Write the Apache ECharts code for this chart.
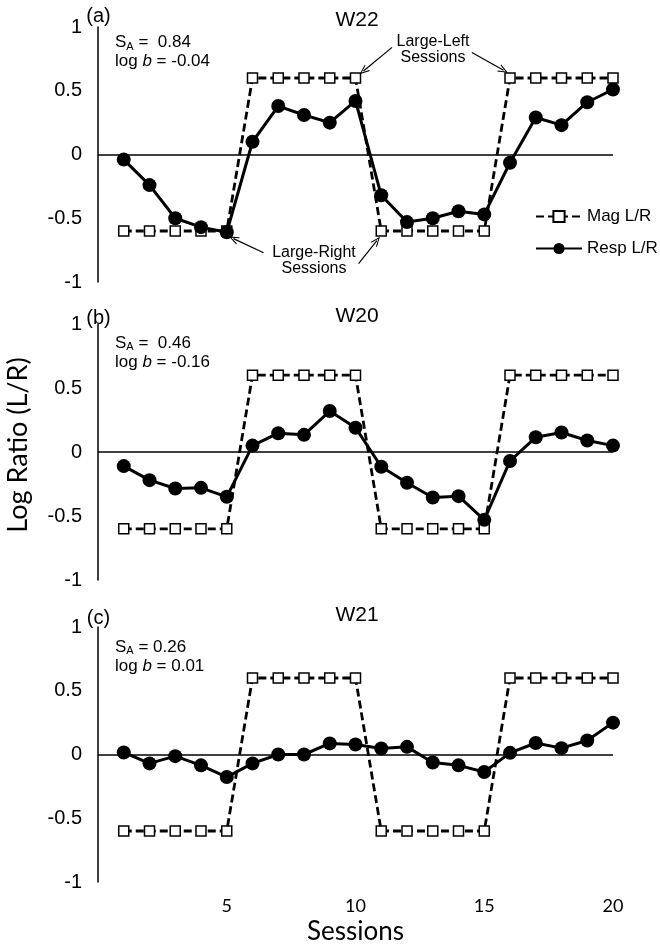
<!DOCTYPE html>
<html>
<head>
<meta charset="utf-8">
<script src="https://cdn.jsdelivr.net/npm/echarts@6/dist/echarts.min.js"></script>
<style>html,body{margin:0;padding:0;background:#fff}#c{width:660px;height:946px}</style>
</head>
<body>
<div id="c"></div>
<script>
// ---- data ----
const sessions = [1,2,3,4,5,6,7,8,9,10,11,12,13,14,15,16,17,18,19,20];
const magLR = [-0.6,-0.6,-0.6,-0.6,-0.6, 0.6,0.6,0.6,0.6,0.6, -0.6,-0.6,-0.6,-0.6,-0.6, 0.6,0.6,0.6,0.6,0.6];
const respW22 = [-0.04,-0.24,-0.50,-0.57,-0.61, 0.10,0.38,0.31,0.25,0.42, -0.32,-0.53,-0.50,-0.445,-0.47, -0.065,0.29,0.23,0.41,0.51];
const respW20 = [-0.11,-0.22,-0.285,-0.28,-0.35, 0.05,0.147,0.134,0.32,0.19, -0.115,-0.24,-0.355,-0.345,-0.53, -0.07,0.115,0.152,0.09,0.05];
const respW21 = [0.016,-0.07,-0.013,-0.085,-0.177, -0.07,0.0,0.0,0.087,0.079, 0.047,0.06,-0.063,-0.085,-0.137, 0.013,0.09,0.05,0.11,0.25];
const subjects = ['W22','W20','W21'];
const panelTags = ['(a)','(b)','(c)'];
const saValues = [' 0.84',' 0.46','0.26'];
const logbValues = ['-0.04','-0.16','0.01'];
const yTickValues = [-1,-0.5,0,0.5,1];
const xTickLabels = [5,10,15,20];
// annotation arrows (panel a), in data coordinates [session, log ratio]
const arrowsA = [
  [[11.42,0.84],[10.31,0.655]],
  [[14.52,0.80],[15.75,0.66]],
  [[6.43,-0.77],[5.26,-0.66]],
  [[10.12,-0.855],[10.83,-0.675]]
];

const respAll = [respW22, respW20, respW21];
const grids = [
  {left:98, width:515, top:27, height:255},
  {left:98, width:515, top:324, height:256},
  {left:98, width:515, top:627, height:255}
];
const chevron = 'path://M0,10 L5,0 L10,10 L8.6,10 L5,2.6 L1.4,10 Z';

const xAxes = [], yAxes = [], series = [];
grids.forEach((g,i)=>{
  const last = i === grids.length-1;
  xAxes.push({
    gridIndex:i, type:'value', min:0, max:20, interval:5,
    axisLine:{show:false}, axisTick:{show:false}, splitLine:{show:false},
    axisLabel:{show:last, showMinLabel:false, margin:15, color:'#000', fontFamily:'Lato', fontSize:18,
      formatter:v=> xTickLabels.indexOf(v)>=0 ? String(v) : ''},
    name: last ? 'Sessions' : '', nameLocation:'middle', nameGap:37,
    nameTextStyle:{fontFamily:'Lato', fontSize:26, color:'#000'}
  });
  yAxes.push({
    gridIndex:i, type:'value', min:yTickValues[0], max:yTickValues[yTickValues.length-1], interval:0.5,
    axisLine:{show:true, lineStyle:{color:'#000', width:1.5}},
    axisTick:{show:false}, splitLine:{show:false},
    axisLabel:{margin:16, color:'#000', fontFamily:'Liberation Sans', fontSize:20}
  });
  series.push({
    name:'Mag L/R', type:'line', xAxisIndex:i, yAxisIndex:i, z:2,
    data: sessions.map((s,k)=>[s, magLR[k]]),
    symbol:'rect', symbolSize:10, clip:false,
    itemStyle:{color:'#fff', borderColor:'#000', borderWidth:1.5},
    lineStyle:{color:'#000', width:2.8, type:[8,4]},
    markLine:{silent:true, symbol:'none', animation:false, label:{show:false},
      lineStyle:{color:'#000', width:1.5, type:'solid'}, data:[{yAxis:0}]}
  });
  const resp = {
    name:'Resp L/R', type:'line', xAxisIndex:i, yAxisIndex:i, z:3,
    data: sessions.map((s,k)=>[s, respAll[i][k]]),
    symbol:'circle', symbolSize:14, clip:false,
    itemStyle:{color:'#000'},
    lineStyle:{color:'#000', width:3}
  };
  if (i === 0) {
    resp.markLine = {
      silent:true, animation:false, symbol:['none', chevron], symbolSize:[8,10],
      label:{show:false}, lineStyle:{color:'#000', width:1.2, type:'solid'},
      data: arrowsA.map(a=>[{coord:a[0]},{coord:a[1]}])
    };
  }
  series.push(resp);
});

const graphics = [];
const tagY = [16, 318, 618];
const titleY = [20, 316.5, 615];
const statTop = [33, 333.5, 637.5];
grids.forEach((g,i)=>{
  graphics.push({type:'text', x:98.5, y:tagY[i], style:{text:panelTags[i], font:'20px "Liberation Sans"', fill:'#000', textAlign:'center', textVerticalAlign:'middle'}});
  graphics.push({type:'text', x:357, y:titleY[i], style:{text:subjects[i], font:'21px "Liberation Sans"', fill:'#000', textAlign:'center', textVerticalAlign:'middle'}});
  graphics.push({type:'text', x:115, y:statTop[i], style:{
    text:'S{sub|A} = '+saValues[i]+'\nlog {it|b} = '+logbValues[i],
    font:'17px "Liberation Sans"', fill:'#000', lineHeight:19, textVerticalAlign:'top',
    rich:{
      sub:{fontSize:11, fontFamily:'Liberation Sans', fill:'#000', verticalAlign:'bottom', lineHeight:13},
      it:{fontSize:17, fontFamily:'Liberation Sans', fontStyle:'italic', fill:'#000', lineHeight:19}
    }}});
});
graphics.push({type:'text', x:433, y:49.5, style:{text:'Large-Left\nSessions', font:'16px "Liberation Sans"', fill:'#000', lineHeight:15.5, textAlign:'center', textVerticalAlign:'middle'}});
graphics.push({type:'text', x:314, y:260.5, style:{text:'Large-Right\nSessions', font:'16px "Liberation Sans"', fill:'#000', lineHeight:15.5, textAlign:'center', textVerticalAlign:'middle'}});
graphics.push({type:'text', x:18, y:445, rotation:Math.PI/2, style:{text:'Log Ratio (L/R)', font:'27px Lato', fill:'#000', textAlign:'center', textVerticalAlign:'middle'}});

const chart = echarts.init(document.getElementById('c'), null, {renderer:'canvas'});
chart.setOption({
  animation:false,
  backgroundColor:'#fff',
  grid: grids,
  xAxis: xAxes,
  yAxis: yAxes,
  legend:{
    data:['Mag L/R','Resp L/R'], orient:'vertical', left:530, top:203,
    itemWidth:46, itemHeight:14, itemGap:15, itemGap:15, selectedMode:false,
    textStyle:{fontFamily:'Liberation Sans', fontSize:17, color:'#000'}
  },
  series: series,
  graphic: graphics
});
</script>
</body>
</html>
